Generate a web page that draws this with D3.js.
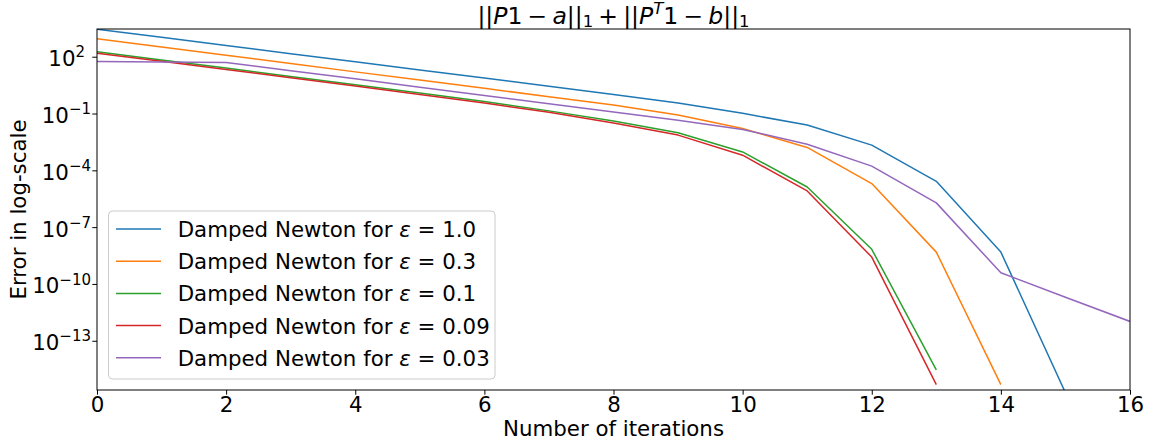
<!DOCTYPE html>
<html>
<head>
<meta charset="utf-8">
<script src="https://cdn.jsdelivr.net/npm/d3@7"></script>
<style>
  html, body { margin: 0; padding: 0; background: #fff; }
  svg { display: block; font-family: "DejaVu Sans", sans-serif; }
  text { white-space: pre; }
</style>
</head>
<body>
<svg id="chart" width="1153" height="446"></svg>
<script>
// Residual ||P1 - a||_1 + ||P^T 1 - b||_1 per Newton iteration
const errEps1   = [2.82e3, 1.05e3, 3.89e2, 1.45e2, 53.7, 20.0, 7.41, 2.75, 1.0, 0.355, 0.102, 0.0245, 2.14e-3, 2.63e-5, 4.8e-9, 1.8e-16];
const errEps03  = [891, 324, 120, 43.7, 15.8, 5.89, 2.14, 0.776, 0.282, 0.0832, 0.0162, 1.62e-3, 2.0e-5, 4.8e-9, 4.8e-16];
const errEps01  = [182, 67.6, 25.1, 9.12, 3.31, 1.20, 0.427, 0.138, 0.0398, 9.55e-3, 9.33e-4, 1.32e-5, 6.76e-9, 2.88e-15];
const errEps009 = [151, 57.5, 21.4, 7.76, 2.82, 1.02, 0.355, 0.115, 0.0316, 7.24e-3, 6.31e-4, 8.13e-6, 2.63e-9, 4.8e-16];
const errEps003 = [55.0, 52.5, 50.1, 18.2, 6.76, 2.45, 0.891, 0.331, 0.120, 0.0447, 0.0145, 2.40e-3, 1.66e-4, 1.91e-6, 3.89e-10, 2.0e-11, 1.05e-12];

const epsLabels = ["1.0", "0.3", "0.1", "0.09", "0.03"];
const seriesColors = ["#1f77b4", "#ff7f0e", "#2ca02c", "#d62728", "#9467bd"];
const allSeries = [errEps1, errEps03, errEps01, errEps009, errEps003];

const xTicks = [0, 2, 4, 6, 8, 10, 12, 14, 16];
const yTickExponents = [2, -1, -4, -7, -10, -13];

const svg = d3.select("#chart");
const FS = 21.33, SUP = 15, TFS = 23.5;
const M = { left: 97, right: 1130, top: 29, bottom: 390 };

const x = d3.scaleLinear().domain([0, 16]).range([M.left, M.right]);
const y = d3.scaleLog().domain([Math.pow(10, -15.6), Math.pow(10, 3.463)]).range([M.bottom, M.top]);

svg.append("defs").append("clipPath").attr("id", "plot-clip")
  .append("rect")
  .attr("x", M.left).attr("y", M.top)
  .attr("width", M.right - M.left).attr("height", M.bottom - M.top);

// series lines
const line = d3.line().x((d, i) => x(i)).y(d => y(d));
const plot = svg.append("g").attr("clip-path", "url(#plot-clip)");
allSeries.forEach((s, k) => {
  plot.append("path")
    .datum(s)
    .attr("d", line)
    .attr("fill", "none")
    .attr("stroke", seriesColors[k])
    .attr("stroke-width", 1.5)
    .attr("stroke-linejoin", "round");
});

// frame
svg.append("rect")
  .attr("x", M.left).attr("y", M.top)
  .attr("width", M.right - M.left).attr("height", M.bottom - M.top)
  .attr("fill", "none").attr("stroke", "#000").attr("stroke-width", 1);

// x axis
const xAxis = svg.append("g")
  .attr("transform", `translate(0,${M.bottom})`)
  .call(d3.axisBottom(x).tickValues(xTicks).tickSize(4.7).tickPadding(0).tickFormat(d3.format("d")));
xAxis.select(".domain").remove();
xAxis.selectAll(".tick line").attr("stroke", "#000").attr("stroke-width", 1);
xAxis.selectAll(".tick text")
  .attr("font-family", "DejaVu Sans").attr("font-size", FS).attr("fill", "#000")
  .attr("dy", null).attr("y", 22);

// y axis with power-of-ten labels
const yAxis = svg.append("g")
  .attr("transform", `translate(${M.left},0)`)
  .call(d3.axisLeft(y).tickValues(yTickExponents.map(e => Math.pow(10, e))).tickSize(4.7).tickFormat(""));
yAxis.select(".domain").remove();
yAxis.selectAll(".tick line").attr("stroke", "#000").attr("stroke-width", 1);
yTickExponents.forEach(e => {
  const t = svg.append("text")
    .attr("x", e < 0 ? 91 : 85).attr("y", y(Math.pow(10, e)) + 9.4)
    .attr("text-anchor", "end")
    .attr("font-size", FS).attr("fill", "#000");
  t.append("tspan").text("10");
  t.append("tspan").attr("font-size", SUP).attr("dy", -8.7).text(e < 0 ? "\u2212" + (-e) : String(e));
});

// axis labels
svg.append("text")
  .attr("x", (M.left + M.right) / 2).attr("y", 436)
  .attr("text-anchor", "middle").attr("font-size", FS).attr("fill", "#000")
  .text("Number of iterations");
svg.append("text")
  .attr("transform", `translate(26,${(M.top + M.bottom) / 2}) rotate(-90)`)
  .attr("text-anchor", "middle").attr("font-size", FS).attr("fill", "#000")
  .text("Error in log-scale");

// title: ||P1 − a||_1 + ||P^T 1 − b||_1, binary operators get a medium math space
const gap = TFS * 0.22;
const title = svg.append("text")
  .attr("x", (M.left + M.right) / 2).attr("y", 24)
  .attr("text-anchor", "middle").attr("font-size", TFS).attr("fill", "#000");
title.append("tspan").text("||");
title.append("tspan").attr("font-style", "italic").text("P");
title.append("tspan").text("1");
title.append("tspan").attr("dx", gap).text("\u2212");
title.append("tspan").attr("dx", gap).attr("font-style", "italic").text("a");
title.append("tspan").text("||");
title.append("tspan").attr("font-size", SUP * TFS / FS).attr("dy", 3).text("1");
title.append("tspan").attr("dy", -3).attr("dx", gap).text("+");
title.append("tspan").attr("dx", gap).text("||");
title.append("tspan").attr("font-style", "italic").text("P");
title.append("tspan").attr("font-style", "italic").attr("font-size", SUP * TFS / FS).attr("dy", -10).text("T");
title.append("tspan").attr("dy", 10).text("1");
title.append("tspan").attr("dx", gap).text("\u2212");
title.append("tspan").attr("dx", gap).attr("font-style", "italic").text("b");
title.append("tspan").text("||");
title.append("tspan").attr("font-size", SUP * TFS / FS).attr("dy", 3).text("1");

// legend
const legend = svg.append("g");
legend.append("rect")
  .attr("x", 108.5).attr("y", 211).attr("width", 386.5).attr("height", 168)
  .attr("rx", 4).attr("fill", "#fff").attr("fill-opacity", 0.8)
  .attr("stroke", "#cccccc").attr("stroke-width", 1);
epsLabels.forEach((lab, k) => {
  const ly = 229 + k * 32.2;
  legend.append("line")
    .attr("x1", 116).attr("x2", 161).attr("y1", ly).attr("y2", ly)
    .attr("stroke", seriesColors[k]).attr("stroke-width", 1.5);
  const t = legend.append("text")
    .attr("x", 177.7).attr("y", ly + 8)
    .attr("font-size", FS).attr("fill", "#000");
  t.append("tspan").text("Damped Newton for ");
  t.append("tspan").attr("font-style", "italic").text("\u03b5");
  t.append("tspan").text(" = " + lab);
});
</script>
</body>
</html>
